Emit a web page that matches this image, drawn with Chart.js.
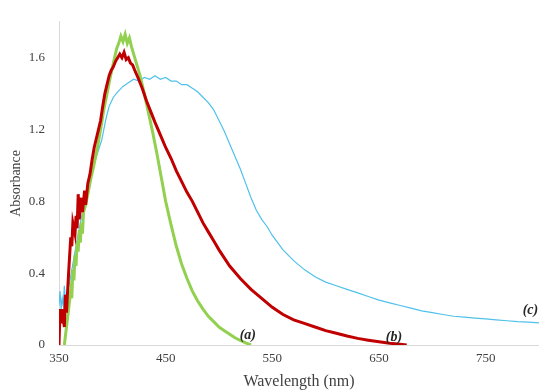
<!DOCTYPE html>
<html>
<head>
<meta charset="utf-8">
<script src="https://cdn.jsdelivr.net/npm/chart.js@4/dist/chart.umd.min.js"></script>
<style>
html,body{margin:0;padding:0;background:#fff;}
#wrap{width:539px;height:391px;position:relative;}
</style>
</head>
<body>
<div id="wrap"><canvas id="c" width="539" height="391"></canvas></div>
<script>
// ---- Data ----
const xTicks = [350, 450, 550, 650, 750];
const yTicks = [0, 0.4, 0.8, 1.2, 1.6];

const wavelengthA = [355,357,359,361,362,363,364,365,366,367,368,369,370,371,372,373,375,377,380,383,386,389,392,395,398,401,404,406,408,410,412,414,416,418,420,423,426,428,430,434,438,442,446,450,455,460,465,470,475,480,485,490,495,500,505,510,515,520,525,530];
const absorbanceA = [0,0.1,0.2,0.3,0.26,0.42,0.36,0.5,0.44,0.58,0.52,0.64,0.57,0.68,0.62,0.74,0.78,0.84,0.93,1.01,1.1,1.2,1.31,1.4,1.49,1.57,1.65,1.68,1.72,1.69,1.73,1.68,1.71,1.66,1.62,1.56,1.5,1.45,1.4,1.29,1.18,1.06,0.93,0.8,0.67,0.55,0.45,0.37,0.3,0.245,0.2,0.16,0.13,0.1,0.08,0.06,0.04,0.025,0.012,0];

const wavelengthB = [350,351,352,353,355,356,357,359,361,362,363,365,366,367,368,369,371,372,374,375,377,379,381,383,385,387,389,391,393,395,397,399,401,403,405,407,409,411,413,415,417,419,421,424,428,432,436,440,445,450,455,460,465,470,475,480,485,490,495,500,510,520,530,540,550,560,570,580,590,600,610,620,630,640,650,660,670,676];
const absorbanceB = [0,0.2,0.12,0.2,0.1,0.28,0.18,0.4,0.6,0.55,0.68,0.62,0.72,0.65,0.84,0.7,0.82,0.74,0.86,0.78,0.9,0.95,1.03,1.1,1.15,1.2,1.25,1.33,1.4,1.45,1.5,1.53,1.55,1.58,1.6,1.62,1.6,1.63,1.59,1.6,1.57,1.56,1.53,1.49,1.43,1.36,1.3,1.24,1.17,1.1,1.04,0.97,0.91,0.85,0.8,0.74,0.68,0.63,0.58,0.53,0.44,0.37,0.31,0.26,0.21,0.17,0.14,0.12,0.1,0.08,0.065,0.05,0.037,0.027,0.018,0.01,0.004,0];

const wavelengthC = [350,351,352,353,354,355,356,357,358,360,365,370,375,380,385,390,394,397,401,405,410,415,420,425,430,435,440,445,450,455,460,465,470,475,480,485,490,495,500,505,510,515,520,525,530,535,540,545,550,555,560,570,580,590,600,610,620,630,640,650,660,670,680,690,700,710,720,730,740,750,760,770,780,790,800];
const absorbanceC = [0.22,0.3,0.2,0.26,0.22,0.33,0.25,0.28,0.3,0.35,0.52,0.68,0.82,0.95,1.05,1.14,1.26,1.33,1.38,1.41,1.44,1.46,1.48,1.47,1.49,1.48,1.5,1.48,1.49,1.47,1.47,1.45,1.45,1.43,1.41,1.38,1.35,1.31,1.25,1.19,1.12,1.05,0.98,0.9,0.82,0.75,0.7,0.66,0.61,0.57,0.53,0.47,0.42,0.38,0.35,0.33,0.31,0.29,0.27,0.25,0.235,0.22,0.205,0.19,0.18,0.17,0.16,0.155,0.15,0.145,0.14,0.135,0.13,0.127,0.123];

const curveLabels = ['(a)', '(b)', '(c)'];
const curveLabelWavelength = [527, 664, 792];
const curveLabelAbsorbance = [0.055, 0.045, 0.19];

function pts(xs, ys){ return xs.map((x,i)=>({x:x, y:ys[i]})); }

const serif = "'Liberation Serif', 'DejaVu Serif', serif";

const labelPlugin = {
  id: 'curveLabels',
  afterDatasetsDraw(chart){
    const ctx = chart.ctx, xs = chart.scales.x, ys = chart.scales.y;
    ctx.save();
    ctx.font = "bold italic 14px " + serif;
    ctx.fillStyle = '#262626';
    ctx.textAlign = 'center';
    ctx.textBaseline = 'middle';
    curveLabels.forEach((t,i)=>{
      ctx.fillText(t, xs.getPixelForValue(curveLabelWavelength[i]), ys.getPixelForValue(curveLabelAbsorbance[i]));
    });
    ctx.restore();
  }
};

new Chart(document.getElementById('c'), {
  type: 'line',
  data: {
    datasets: [
      {label:'(b)', data: pts(wavelengthB, absorbanceB), borderColor:'#C00000', borderWidth:3, pointRadius:0, tension:0, order:1},
      {label:'(a)', data: pts(wavelengthA, absorbanceA), borderColor:'#92D050', borderWidth:3, pointRadius:0, tension:0, order:2},
      {label:'(c)', data: pts(wavelengthC, absorbanceC), borderColor:'#4FC1EA', borderWidth:1.2, pointRadius:0, tension:0, order:3}
    ]
  },
  options: {
    responsive: false,
    animation: false,
    devicePixelRatio: 1,
    layout: {padding: {top: 13, right: 0, left: 0, bottom: 0}},
    plugins: {legend: {display:false}, tooltip: {enabled:false}},
    scales: {
      x: {
        type: 'linear', min: 350, max: 800,
        afterBuildTicks: s => { s.ticks = xTicks.map(v=>({value:v})); },
        afterFit: s => { s.height = 46; },
        grid: {display:false, drawTicks:false, tickLength:0},
        border: {display:true, color:'#D9D9D9', width:1},
        ticks: {font:{family:serif, size:13}, color:'#404040', padding:6, maxRotation:0},
        title: {display:true, text:'Wavelength (nm)', font:{family:serif, size:16}, color:'#404040', padding:{top:0,bottom:0}}
      },
      y: {
        type: 'linear', min: 0, max: 1.8,
        afterBuildTicks: s => { s.ticks = yTicks.map(v=>({value:v})); },
        afterFit: s => { s.width = 59; },
        grid: {display:false, drawTicks:false, tickLength:0},
        border: {display:true, color:'#D9D9D9', width:1},
        ticks: {font:{family:serif, size:13}, color:'#404040', padding:14, callback: v => String(v)},
        title: {display:true, text:'Absorbance', font:{family:serif, size:14}, color:'#404040', padding:{top:8,bottom:0}}
      }
    }
  },
  plugins: [labelPlugin]
});
</script>
</body>
</html>
